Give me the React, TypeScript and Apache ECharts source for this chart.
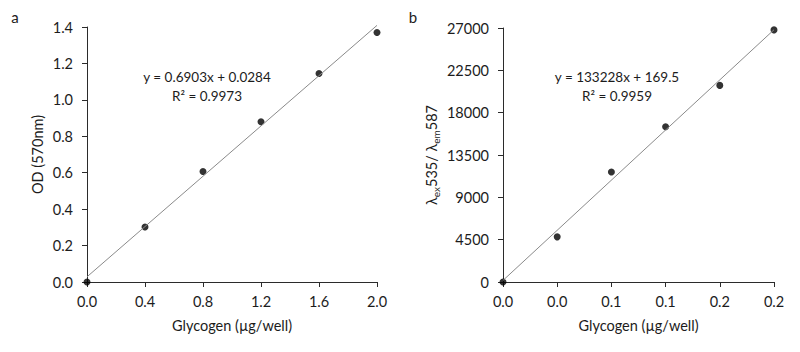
import React, { useEffect, useRef } from "react";
import * as echarts from "echarts";

const odX = [0, 0.4, 0.8, 1.2, 1.6, 2.0];
const odY = [0, 0.302, 0.607, 0.88, 1.145, 1.37];
const odFit = { slope: 0.6903, intercept: 0.0284, r2: "0.9973", xMin: 0, xMax: 2.0 };

const flX = [0, 0.04, 0.08, 0.12, 0.16, 0.2];
const flY = [0, 4800, 11700, 16500, 20900, 26800];
const flFit = { slope: 133228, intercept: 169.5, r2: "0.9959", xMin: 0, xMax: 0.2 };

const FONT = "Lato, 'Open Sans', sans-serif";
const AXIS_COLOR = "#2b2b2b";
const TEXT_COLOR = "#1c1c1c";
const TICK_FS = 14.5;

export default function App() {
  const ref = useRef<HTMLDivElement>(null);
  useEffect(() => {
    if (!ref.current) return;
    const chart = echarts.init(ref.current, null, { renderer: "svg" });
    const axisCommon = {
      axisLine: { show: true, lineStyle: { color: AXIS_COLOR, width: 1 } },
      axisTick: { show: true, length: 5, lineStyle: { color: AXIS_COLOR } },
      splitLine: { show: false },
      nameTextStyle: { color: TEXT_COLOR, fontSize: 14.5, fontFamily: FONT },
    };
    const labelCommon = { color: TEXT_COLOR, fontSize: TICK_FS, fontFamily: FONT };
    chart.setOption({
      animation: false,
      backgroundColor: "#fff",
      grid: [
        { left: 87, right: 423, top: 27, bottom: 70 },
        { left: 503, right: 26, top: 28, bottom: 70 },
      ],
      xAxis: [
        {
          gridIndex: 0, type: "value", min: 0, max: 2, interval: 0.4,
          name: "Glycogen (µg/well)", nameLocation: "middle", nameGap: 36,
          axisLabel: { ...labelCommon, margin: 12, formatter: (v: number) => v.toFixed(1) },
          ...axisCommon,
        },
        {
          gridIndex: 1, type: "value", min: 0, max: 0.2, interval: 0.04,
          name: "Glycogen (µg/well)", nameLocation: "middle", nameGap: 36,
          axisLabel: { ...labelCommon, margin: 12, formatter: (v: number) => v.toFixed(1) },
          ...axisCommon,
        },
      ],
      yAxis: [
        {
          gridIndex: 0, type: "value", min: 0, max: 1.4, interval: 0.2,
          name: "OD (570nm)", nameLocation: "middle", nameGap: 42, nameRotate: 90,
          axisLabel: { ...labelCommon, margin: 14, formatter: (v: number) => v.toFixed(1) },
          ...axisCommon,
        },
        {
          gridIndex: 1, type: "value", min: 0, max: 27000, interval: 4500,
          name: "{m|λ}{s|ex}{m|535/ λ}{s|em}{m|587}", nameLocation: "middle", nameGap: 62, nameRotate: 90,
          axisLabel: { ...labelCommon, margin: 14, formatter: (v: number) => String(v) },
          ...axisCommon,
          nameTextStyle: {
            color: TEXT_COLOR, fontFamily: FONT,
            rich: {
              m: { fontSize: 14.5, fontFamily: FONT, color: TEXT_COLOR, lineHeight: 19 },
              s: { fontSize: 10, fontFamily: FONT, color: TEXT_COLOR, lineHeight: 19, padding: [8, 0, 0, 0] },
            },
          },
        },
      ],
      series: [
        {
          type: "line", xAxisIndex: 0, yAxisIndex: 0, symbol: "none",
          lineStyle: { color: "#8a8a8a", width: 1 }, silent: true,
          data: [odFit.xMin, odFit.xMax].map((x) => [x, odFit.slope * x + odFit.intercept]),
          clip: false,
        },
        {
          type: "scatter", xAxisIndex: 0, yAxisIndex: 0, symbolSize: 7,
          itemStyle: { color: "#000" },
          data: odX.map((x, i) => [x, odY[i]]),
          clip: false,
        },
        {
          type: "line", xAxisIndex: 1, yAxisIndex: 1, symbol: "none",
          lineStyle: { color: "#8a8a8a", width: 1 }, silent: true,
          data: [flFit.xMin, flFit.xMax].map((x) => [x, flFit.slope * x + flFit.intercept]),
          clip: false,
        },
        {
          type: "scatter", xAxisIndex: 1, yAxisIndex: 1, symbolSize: 7,
          itemStyle: { color: "#000" },
          data: flX.map((x, i) => [x, flY[i]]),
          clip: false,
        },
      ],
      graphic: [
        { type: "text", x: 15, y: 17, style: { text: "a", fill: TEXT_COLOR, font: `15px ${FONT}`, textAlign: "center", textVerticalAlign: "middle" } },
        { type: "text", x: 413, y: 17, style: { text: "b", fill: TEXT_COLOR, font: `15px ${FONT}`, textAlign: "center", textVerticalAlign: "middle" } },
        { type: "text", x: 207, y: 77, style: { text: `y = ${odFit.slope}x + ${odFit.intercept}`, fill: TEXT_COLOR, font: `13.5px ${FONT}`, textAlign: "center", textVerticalAlign: "middle" } },
        { type: "text", x: 207, y: 96, style: { text: `R² = ${odFit.r2}`, fill: TEXT_COLOR, font: `13.5px ${FONT}`, textAlign: "center", textVerticalAlign: "middle" } },
        { type: "text", x: 617, y: 77, style: { text: `y = ${flFit.slope}x + ${flFit.intercept}`, fill: TEXT_COLOR, font: `13.5px ${FONT}`, textAlign: "center", textVerticalAlign: "middle" } },
        { type: "text", x: 617, y: 96, style: { text: `R² = ${flFit.r2}`, fill: TEXT_COLOR, font: `13.5px ${FONT}`, textAlign: "center", textVerticalAlign: "middle" } },
      ],
    });
    return () => chart.dispose();
  }, []);
  return <div ref={ref} style={{ width: 800, height: 352, position: "absolute", left: 0, top: 0 }} />;
}
